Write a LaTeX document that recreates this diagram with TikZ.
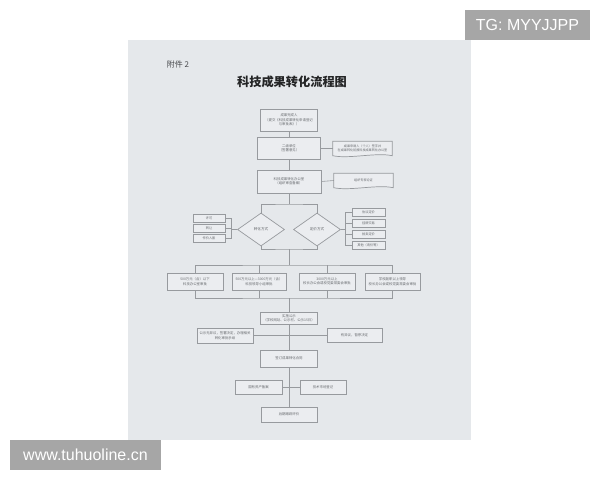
\documentclass[tikz,border=0pt]{standalone}
\usepackage{fontspec}
\newfontfamily\cjk{Noto Sans CJK SC}
\newfontfamily\wm{Liberation Sans}
\usetikzlibrary{shapes.geometric}
\definecolor{paper}{HTML}{E5E8EB}
\definecolor{boxfill}{HTML}{EBEDF0}
\definecolor{ln}{HTML}{979A9E}
\definecolor{tx}{HTML}{66696D}
\definecolor{wmg}{HTML}{A6A6A6}
\tikzset{
  box/.style={draw=ln, line width=0.7pt, fill=boxfill, inner sep=0pt, align=center,
    text=tx, font=\cjk\fontsize{3.4}{4.4}\selectfont},
  docbox/.style={inner sep=0pt, align=center, text=tx, font=\cjk\fontsize{3.1}{4.1}\selectfont,
    minimum width=59pt, minimum height=14pt},
  docline/.style={draw=ln, line width=0.7pt, fill=boxfill},
  dia/.style={diamond, draw=ln, line width=0.7pt, fill=boxfill, inner sep=0pt, aspect=1.4,
    minimum width=47pt, minimum height=33pt, text=tx, font=\cjk\fontsize{3.6}{4.4}\selectfont},
  small/.style={box, font=\cjk\fontsize{3.2}{4}\selectfont, minimum height=8pt},
  conn/.style={draw=ln, line width=0.6pt},
  wmark/.style={fill=wmg, text=white, inner sep=0pt, font=\wm\fontsize{16}{16}\selectfont}
}
\begin{document}
\begin{tikzpicture}[x=1pt,y=-1pt]
\useasboundingbox (0,0) rectangle (600,480);
\fill[white] (0,0) rectangle (600,480);
\fill[paper] (128,40) rectangle (471,440);

% watermarks
\node[wmark, minimum width=125pt, minimum height=30pt] (tg) at (527.5,25) {TG: MYYJJPP};
\node[wmark, minimum width=151pt, minimum height=30pt] (url) at (85.5,455) {www.tuhuoline.cn};

% headings
\node[text=tx!70!black, font=\cjk\fontsize{8}{8}\selectfont, inner sep=0pt] (att) at (178,64.5) {附件 2};
\node[text=tx!35!black, font=\cjk\bfseries\fontsize{12.2}{12.2}\selectfont, inner sep=0pt] (title) at (292,82) {科技成果转化流程图};

% main column
\node[box, minimum width=57pt, minimum height=22pt] (b1) at (289,120)
  {成果完成人\\（提交《科技成果转化申请登记\\与审批表》）};
\node[box, minimum width=63pt, minimum height=22pt] (b2) at (289,148.5)
  {二级单位\\（签署意见）};
\node[box, minimum width=64pt, minimum height=23pt] (b3) at (289,181.5)
  {科技成果转化办公室\\（组织审查备案）};

% document shapes
\node[docbox] (d1) at (362.5,148.5) {};
\node[docbox] (d2) at (363.5,180.5) {};
\foreach \d in {d1,d2}{
  \path[docline] (\d.south west) -- (\d.north west) -- (\d.north east) -- (\d.south east)
    .. controls ([xshift=-16pt,yshift=3.5pt]\d.south east) and ([xshift=16pt,yshift=-3.5pt]\d.south west) .. (\d.south west) -- cycle;
}
\node[docbox] (d1t) at (d1) {成果申请人（个人）签字并\\在成果转化前报科技成果转化办公室};
\node[docbox] (d2t) at (d2) {组织专家论证};

\draw[conn] (b1) -- (b2);
\draw[conn] (b2) -- (b3);
\draw[conn] (b2.east) -- (d1.west);
\draw[conn] (b3.east) -- (d2.west);

% diamonds
\coordinate (j1) at (289,204);
\coordinate (j2) at (289,249);
\coordinate (j3) at (289,265);
\node[dia] (ldia) at (261,229.5) {转化方式};
\node[dia] (rdia) at (317,229.5) {定价方式};
\draw[conn] (b3.south) -- (j1);
\draw[conn] (ldia.north) |- (j1) -| (rdia.north);
\draw[conn] (ldia.south) |- (j2) -| (rdia.south);
\draw[conn] (j2) -- (j3);

% left options
\node[small, minimum width=32pt] (xk) at (209,218) {许可};
\node[small, minimum width=32pt] (zr) at (209,228) {转让};
\node[small, minimum width=32pt] (zj) at (209,238.5) {作价入股};
\coordinate (lb) at (231,229.5);
\draw[conn] (xk.east) -| (lb);
\draw[conn] (zr.east) -| (lb);
\draw[conn] (zj.east) -| (lb);
\draw[conn] (lb) -- (ldia.west);

% right options
\node[small, minimum width=33pt] (xy) at (368.5,212) {协议定价};
\node[small, minimum width=33pt] (gp) at (368.5,223) {挂牌交易};
\node[small, minimum width=33pt] (pm) at (368.5,234) {拍卖定价};
\node[small, minimum width=33pt] (qt) at (368.5,245) {其他（询价等）};
\coordinate (rb) at (345,229.5);
\draw[conn] (rdia.east) -- (rb);
\draw[conn] (xy.west) -| (rb);
\draw[conn] (gp.west) -| (rb);
\draw[conn] (pm.west) -| (rb);
\draw[conn] (qt.west) -| (rb);

% approval boxes
\node[box, minimum width=56pt, minimum height=17pt] (ba) at (195,281.5) {500万元（含）以下\\科技办公室审批};
\node[box, minimum width=54pt, minimum height=17pt] (bb) at (259,281.5) {500万元以上—3000万元（含）\\科技领导小组审批};
\node[box, minimum width=56pt, minimum height=17pt] (bc) at (327,281.5) {3000万元以上\\校长办公会或校党委常委会审批};
\node[box, minimum width=55pt, minimum height=17pt] (bd) at (392.5,281.5) {学校副职以上领导\\校长办公会或校党委常委会审批};
\coordinate (j4) at (289,298);
\draw[conn] (ba.north) |- (j3) -| (bd.north);
\draw[conn] (bb.north) -- (bb.north |- j3);
\draw[conn] (bc.north) -- (bc.north |- j3);
\draw[conn] (ba.south) |- (j4) -| (bd.south);
\draw[conn] (bb.south) -- (bb.south |- j4);
\draw[conn] (bc.south) -- (bc.south |- j4);

% publicity
\node[box, minimum width=57pt, minimum height=12pt] (pub) at (289,318) {实施公示\\（学校网站、公示栏、公示15日）};
\node[box, minimum width=56pt, minimum height=15pt] (lok) at (225,335.5) {公示无异议，签署决定，办理相关\\转化审批手续};
\node[box, minimum width=55pt, minimum height=14pt] (rno) at (354.5,335.5) {有异议，暂停决定};
\node[box, minimum width=57pt, minimum height=17pt] (sign) at (289,358.5) {签订成果转化合同};
\draw[conn] (j4) -- (pub.north);
\draw[conn] (pub.south) -- (sign.north);
\draw[conn] (lok.east) -- (rno.west);

% final part
\node[box, minimum width=47pt, minimum height=14pt] (gz) at (258.5,387) {国有资产备案};
\node[box, minimum width=46pt, minimum height=14pt] (js) at (323,387) {技术市场登记};
\node[box, minimum width=56pt, minimum height=15pt] (fin) at (289,414.5) {后期跟踪评价};
\draw[conn] (sign.south) -- (fin.north);
\draw[conn] (gz.east) -- (js.west);
\end{tikzpicture}
\end{document}
